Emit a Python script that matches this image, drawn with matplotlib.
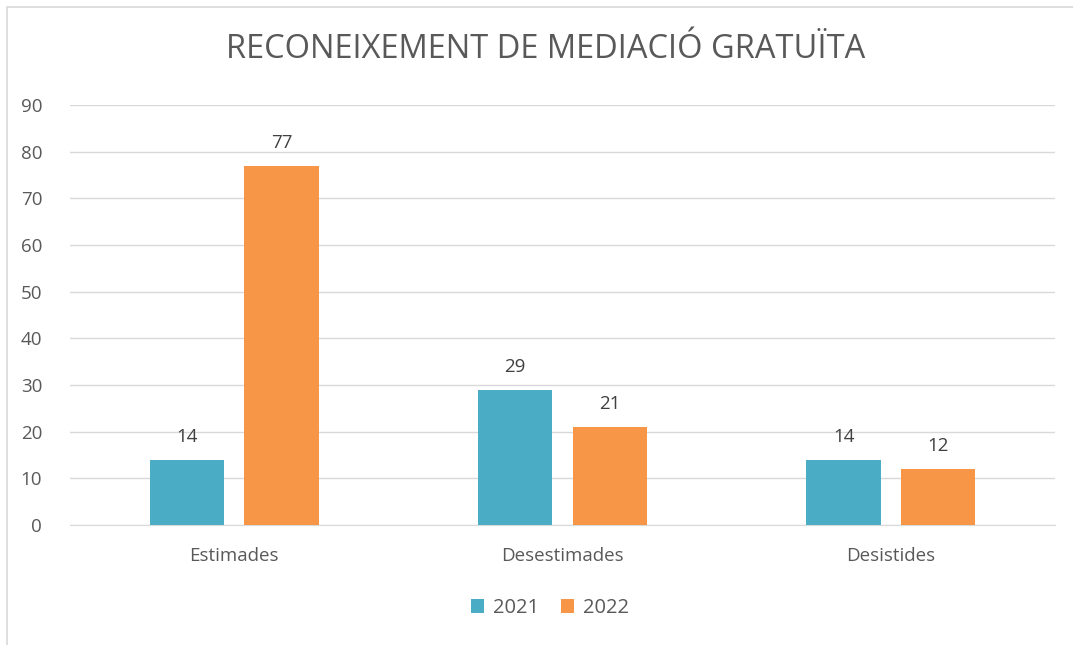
import numpy as np
import matplotlib.pyplot as plt
from matplotlib.patches import Rectangle

categories = ["Estimades", "Desestimades", "Desistides"]
years = ["2021", "2022"]
values_2021 = [14, 29, 14]
values_2022 = [77, 21, 12]
yticks = [0, 10, 20, 30, 40, 50, 60, 70, 80, 90]

plt.rcParams["font.family"] = ["Open Sans", "DejaVu Sans"]
text_col = "#595959"
grid_col = "#D9D9D9"
colors = ["#4BACC6", "#F79646"]

fig = plt.figure(figsize=(10.73, 6.45), dpi=100)
ax = fig.add_axes([70 / 1073, 1 - 525 / 645, 985 / 1073, 420 / 645])

# chart border (cut at right and bottom like the screenshot)
fig.patches.append(Rectangle((7 / 1073, -0.05), 1.1, 1 - 7 / 645 + 0.05,
                             transform=fig.transFigure, fill=False,
                             edgecolor=grid_col, linewidth=1.2))

x = np.arange(len(categories))
w = 0.226
off = 0.144
for vals, dx, col, lab in [(values_2021, -off, colors[0], years[0]),
                           (values_2022, off, colors[1], years[1])]:
    bars = ax.bar(x + dx, vals, width=w, color=col, label=lab, zorder=3)
    for b, v in zip(bars, vals):
        ax.text(b.get_x() + b.get_width() / 2, v + 3, str(v), ha="center",
                va="bottom", fontsize=13.5, color="#404040")

ax.set_xlim(-0.5, 2.5)
ax.set_ylim(0, 90)
ax.set_yticks(yticks)
ax.set_xticks(x)
ax.set_xticklabels(categories)
ax.grid(axis="y", color=grid_col, linewidth=1, zorder=0)
for s in ["top", "right", "left"]:
    ax.spines[s].set_visible(False)
ax.spines["bottom"].set_color(grid_col)
ax.tick_params(axis="both", length=0, labelsize=13.5, colors=text_col)
ax.tick_params(axis="y", pad=20)
ax.tick_params(axis="x", pad=16)

fig.text(546 / 1073, 1 - 50 / 645, "RECONEIXEMENT DE MEDIACIÓ GRATUÏTA",
         ha="center", va="center", fontsize=23.5, color=text_col)

fig.legend(loc="center", bbox_to_anchor=(550 / 1073, 1 - 608 / 645), ncol=2,
           frameon=False, fontsize=14.5, labelcolor=text_col, handlelength=0.65,
           handleheight=0.65, handletextpad=0.45, columnspacing=1.1)

fig.savefig("out.png", dpi=100)
